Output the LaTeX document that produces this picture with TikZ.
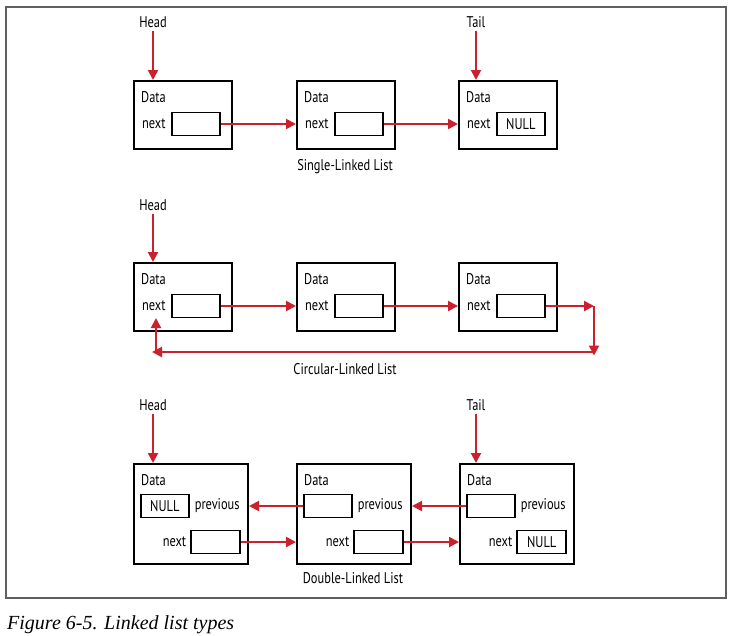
\documentclass[tikz,border=0pt]{standalone}
\usepackage{fontspec}
\usetikzlibrary{arrows.meta}
\newfontfamily\diagfont[FakeStretch=0.8]{PT Sans}
\newfontfamily\capfont{Liberation Serif}
\definecolor{linkred}{RGB}{203,32,45}
\definecolor{framegray}{RGB}{95,95,95}
\tikzset{
  txt/.style={font=\diagfont\fontsize{15.5}{18}\selectfont, inner sep=0pt},
  cell/.style={draw, line width=2pt, anchor=north west, inner sep=0pt,
               minimum width=98pt, minimum height=68pt},
  wcell/.style={cell, minimum width=114pt, minimum height=100pt},
  slot/.style={draw, line width=1.6pt, inner sep=0pt, minimum width=48pt,
               minimum height=23pt, font=\diagfont\fontsize{15.5}{18}\selectfont},
  link/.style={draw=linkred, line width=2pt,
               -{Triangle[length=10pt,width=10pt,fill=linkred]}},
  ptr/.style={txt, inner sep=3pt},
}
\begin{document}
\begin{tikzpicture}[x=1pt, y=-1pt]
\useasboundingbox (0,0) rectangle (730,635);
\fill[white] (0,0) rectangle (730,635);
% outer frame
\draw[framegray, line width=1.3pt] (6,7) rectangle (726,598);

% ---------- single-linked list ----------
\foreach \i/\x/\t in {1/133/{},2/296/{},3/458/NULL}{
  \node[cell] (a\i) at (\x,80) {};
  \node[txt, anchor=west] (a\i d) at (\x+8,97) {Data};
  \node[txt, anchor=west] (a\i n) at (\x+9,124) {next};
  \node[slot, anchor=west] (a\i p) at (\x+38,124) {\t};
}
\node[ptr] (ha) at (153,22) {Head};
\node[ptr] (ta) at (476,22) {Tail};
\draw[link] (ha.south) -- (ha.south |- a1.north);
\draw[link] (ta.south) -- (ta.south |- a3.north);
\draw[link] (a1p.east) -- (a1p.east -| a2.west);
\draw[link] (a2p.east) -- (a2p.east -| a3.west);
\node[txt] (la) at (345,167) {Single-Linked List};

% ---------- circular-linked list ----------
\foreach \i/\x in {1/133,2/296,3/458}{
  \node[cell] (b\i) at (\x,262) {};
  \node[txt, anchor=west] (b\i d) at (\x+8,279) {Data};
  \node[txt, anchor=west] (b\i n) at (\x+9,306) {next};
  \node[slot, anchor=west] (b\i p) at (\x+38,306) {};
}
\node[ptr] (hb) at (153,205) {Head};
\draw[link] (hb.south) -- (hb.south |- b1.north);
\draw[link] (b1p.east) -- (b1p.east -| b2.west);
\draw[link] (b2p.east) -- (b2p.east -| b3.west);
\coordinate (r1) at (594,306);
\coordinate (r2) at (594,355.5);
\coordinate (r3) at (594,352);
\coordinate (r4) at (152,352);
\coordinate (r5) at (156,352);
\coordinate (r6) at (156,318);
\draw[link] (b3p.east) -- (r1);
\draw[link] (r1) -- (r2);
\draw[link] (r3) -- (r4);
\draw[link] (r5) -- (r6);
\node[txt] (lb) at (345,369) {Circular-Linked List};

% ---------- double-linked list ----------
\foreach \i/\x/\p/\n in {1/133/NULL/{},2/296/{}/{},3/459/{}/NULL}{
  \node[wcell] (d\i) at (\x,463) {};
  \node[txt, anchor=west] (d\i d) at (\x+8,480) {Data};
  \node[slot, anchor=west] (d\i p) at (\x+7,506) {\p};
  \node[txt, anchor=west] (d\i pv) at ([xshift=5pt]d\i p.east) {previous};
  \node[slot, anchor=east, minimum width=49pt] (d\i n) at (\x+108,542) {\n};
  \node[txt, anchor=east] (d\i nx) at ([xshift=-4pt]d\i n.west) {next};
}
\node[ptr] (hd) at (153,405) {Head};
\node[ptr] (td) at (476,405) {Tail};
\draw[link] (hd.south) -- (hd.south |- d1.north);
\draw[link] (td.south) -- (td.south |- d3.north);
\draw[link] (d2p.west) -- (d2p.west -| d1.east);
\draw[link] (d3p.west) -- (d3p.west -| d2.east);
\draw[link] (d1n.east) -- (d1n.east -| d2.west);
\draw[link] (d2n.east) -- (d2n.east -| d3.west);
\node[txt] (ld) at (353,578) {Double-Linked List};

% caption
\node[anchor=west, inner sep=0pt, font=\capfont\itshape\fontsize{20}{24}\selectfont]
  (cap) at (7,625) {Figure 6-5. Linked list types};
\end{tikzpicture}
\end{document}
